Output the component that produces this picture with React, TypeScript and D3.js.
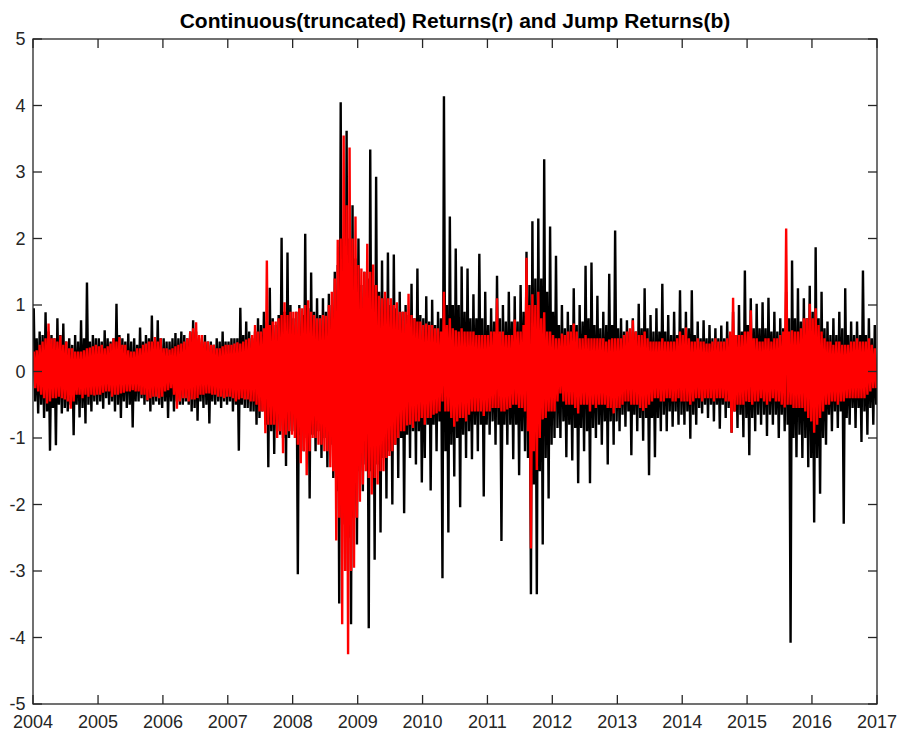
import React, { useEffect, useRef } from 'react';
import * as d3 from 'd3';

const TITLE = 'Continuous(truncated) Returns(r) and Jump Returns(b)';
const xTickYears = [2004, 2005, 2006, 2007, 2008, 2009, 2010, 2011, 2012, 2013, 2014, 2015, 2016, 2017];
const yTicks = [-5, -4, -3, -2, -1, 0, 1, 2, 3, 4, 5];
const FIRST_YEAR = 2004;
const SLOTS_PER_YEAR = 22;

// continuous (truncated) returns, black: highest and lowest reading in each slot, one row per year 2004..2016
const blackHigh = [
  0.95, 0.5, 0.6, 0.55, 0.89, 0.6, 0.55, 0.5, 0.8, 0.55, 0.72, 0.45, 0.5, 0.4, 0.55, 0.45, 0.77, 0.5, 1.34, 0.45, 0.55, 0.5,
  0.5, 0.45, 0.62, 0.5, 0.45, 0.5, 1.02, 0.55, 0.5, 0.45, 0.57, 0.45, 0.5, 0.4, 0.66, 0.45, 0.55, 0.5, 0.84, 0.45, 0.77, 0.5,
  0.5, 0.45, 0.45, 0.5, 0.58, 0.5, 0.6, 0.55, 0.5, 0.6, 0.77, 0.6, 0.5, 0.45, 0.55, 0.45, 0.45, 0.4, 0.5, 0.45, 0.6, 0.45,
  0.45, 0.5, 0.5, 0.5, 0.96, 0.55, 0.75, 0.6, 0.5, 0.6, 0.8, 0.7, 0.9, 0.75, 1.26, 0.8, 0.7, 0.85, 2.01, 0.9, 1.79, 1.0,
  0.8, 0.9, 1.0, 0.85, 2.07, 0.95, 1.49, 0.9, 1.1, 0.85, 1.1, 0.9, 1.17, 1.0, 1.5, 1.6, 4.05, 2.0, 3.62, 2.0, 2.5, 1.7,
  2.0, 1.3, 1.5, 1.4, 3.34, 1.3, 2.93, 1.2, 1.67, 1.1, 1.79, 1.0, 1.76, 0.95, 1.2, 0.9, 1.0, 0.85, 1.32, 0.8, 1.55, 0.85,
  0.8, 1.13, 0.75, 1.08, 0.7, 0.9, 0.8, 4.14, 1.0, 2.33, 1.0, 1.85, 1.0, 1.58, 0.9, 1.55, 0.8, 1.16, 0.8, 1.77, 0.8, 1.2,
  0.7, 0.95, 0.75, 1.44, 0.8, 1.0, 0.75, 1.2, 0.75, 1.13, 0.75, 1.3, 0.9, 1.8, 1.3, 2.26, 1.4, 2.3, 1.4, 3.19, 1.2, 2.18,
  0.9, 1.74, 0.7, 1.0, 0.65, 0.9, 0.7, 1.25, 0.7, 1.0, 0.75, 1.59, 0.8, 1.64, 0.7, 1.14, 0.65, 0.9, 0.7, 1.47, 0.7, 2.12,
  0.65, 0.8, 0.6, 0.77, 0.6, 0.8, 0.6, 1.02, 0.65, 1.25, 0.65, 0.85, 0.6, 0.95, 0.6, 1.32, 0.6, 0.85, 0.55, 0.9, 0.55, 1.22,
  0.65, 0.9, 0.65, 1.22, 0.55, 0.75, 0.5, 0.77, 0.5, 0.7, 0.5, 0.65, 0.5, 0.69, 0.5, 0.75, 0.55, 0.9, 0.55, 1.0, 0.6, 1.52,
  0.7, 1.1, 0.65, 1.02, 0.65, 1.04, 0.65, 1.11, 0.6, 0.9, 0.6, 0.8, 0.65, 1.2, 0.8, 1.67, 0.8, 1.25, 0.75, 1.1, 0.8, 1.29,
  0.9, 1.87, 0.8, 1.2, 0.65, 0.75, 0.55, 0.8, 0.55, 0.9, 0.65, 1.25, 0.55, 0.75, 0.55, 0.75, 0.55, 1.52, 0.55, 0.8, 0.5, 0.7,
];
const blackLow = [
  -0.45, -0.63, -0.5, -0.7, -0.6, -1.19, -0.55, -1.11, -0.5, -0.63, -0.55, -0.6, -0.5, -0.96, -0.5, -0.69, -0.55, -0.78, -0.5, -0.6, -0.45, -0.5,
  -0.45, -0.56, -0.4, -0.5, -0.45, -0.6, -0.5, -0.7, -0.45, -0.55, -0.5, -0.84, -0.45, -0.45, -0.4, -0.5, -0.45, -0.6, -0.5, -0.45, -0.5, -0.55,
  -0.45, -0.7, -0.45, -0.6, -0.45, -0.5, -0.5, -0.45, -0.5, -0.6, -0.55, -0.74, -0.45, -0.55, -0.5, -0.78, -0.45, -0.5, -0.45, -0.55, -0.45, -0.5,
  -0.45, -0.6, -0.5, -1.19, -0.5, -0.55, -0.55, -0.6, -0.6, -0.8, -0.7, -0.6, -0.8, -1.44, -0.9, -1.24, -0.9, -0.95, -1.0, -1.42, -1.0, -0.9,
  -0.9, -3.05, -0.95, -1.2, -1.0, -1.91, -0.95, -1.2, -0.9, -1.3, -1.0, -1.44, -1.1, -1.6, -1.8, -3.49, -2.3, -3.0, -2.5, -3.8, -2.2, -2.6,
  -1.5, -1.8, -1.4, -3.86, -1.5, -2.83, -1.4, -2.42, -1.3, -1.91, -1.2, -2.0, -1.1, -1.6, -1.0, -2.13, -0.95, -1.3, -0.9, -1.4, -0.9, -1.67,
  -1.3, -0.8, -1.79, -0.8, -1.2, -0.75, -3.11, -1.2, -2.42, -1.1, -1.58, -1.0, -2.04, -0.95, -1.3, -0.9, -1.32, -0.8, -1.2, -0.8, -1.88, -0.8,
  -0.95, -0.75, -1.1, -0.8, -2.55, -0.8, -1.1, -0.8, -1.32, -0.8, -1.56, -0.9, -1.2, -1.3, -3.35, -1.7, -3.35, -1.5, -2.6, -1.3, -1.91, -1.1,
  -1.0, -0.85, -1.0, -0.75, -1.29, -0.8, -1.34, -0.85, -1.68, -0.85, -1.2, -0.9, -1.68, -0.85, -1.0, -0.8, -1.1, -0.75, -1.4, -0.75, -1.1, -0.75,
  -0.9, -0.65, -0.83, -0.6, -1.26, -0.65, -0.9, -0.7, -1.04, -0.7, -1.56, -0.7, -1.29, -0.7, -0.9, -0.65, -0.9, -0.6, -0.83, -0.6, -0.8, -0.65,
  -0.8, -0.6, -1.01, -0.65, -0.8, -0.55, -0.63, -0.5, -0.7, -0.5, -0.75, -0.5, -0.86, -0.5, -0.7, -0.55, -0.92, -0.6, -0.85, -0.65, -0.99, -0.7,
  -1.26, -0.7, -0.9, -0.65, -0.8, -0.65, -0.97, -0.65, -0.8, -0.65, -1.0, -0.65, -0.9, -0.8, -4.08, -1.0, -1.29, -0.95, -1.3, -1.0, -1.44, -1.3,
  -2.27, -1.3, -1.84, -1.0, -1.1, -0.65, -0.9, -0.6, -0.85, -0.6, -2.29, -0.7, -0.8, -0.55, -0.85, -0.55, -1.06, -0.6, -0.95, -0.55, -0.8, -0.5,
];

// jump returns, red: same slots
const redHigh = [
  0.3, 0.32, 0.4, 0.45, 0.5, 0.72, 0.5, 0.5, 0.45, 0.54, 0.4, 0.45, 0.35, 0.35, 0.3, 0.3, 0.3, 0.32, 0.35, 0.36, 0.38, 0.4,
  0.38, 0.4, 0.35, 0.38, 0.42, 0.5, 0.45, 0.52, 0.4, 0.4, 0.32, 0.3, 0.3, 0.35, 0.35, 0.4, 0.42, 0.45, 0.45, 0.52, 0.45, 0.5,
  0.35, 0.35, 0.33, 0.35, 0.38, 0.4, 0.42, 0.45, 0.5, 0.6, 0.65, 0.74, 0.55, 0.55, 0.45, 0.45, 0.4, 0.4, 0.35, 0.35, 0.38, 0.4,
  0.4, 0.4, 0.42, 0.44, 0.42, 0.45, 0.48, 0.5, 0.55, 0.7, 0.6, 0.6, 0.65, 1.67, 0.7, 0.75, 0.75, 0.8, 0.85, 1.04, 0.85, 0.9,
  0.9, 0.9, 0.95, 0.95, 1.0, 1.07, 0.9, 0.85, 0.8, 0.8, 0.85, 0.84, 1.0, 1.2, 1.4, 1.98, 2.0, 3.55, 2.5, 3.37, 2.0, 2.33,
  1.6, 1.55, 1.5, 1.92, 1.5, 1.61, 1.3, 1.14, 1.1, 1.2, 1.1, 1.1, 1.0, 1.04, 0.9, 0.9, 0.9, 1.17, 0.85, 0.8, 0.75, 0.75,
  0.7, 0.72, 0.7, 0.7, 0.65, 0.65, 0.6, 1.2, 0.7, 0.8, 0.65, 0.62, 0.6, 0.65, 0.6, 0.6, 0.6, 0.6, 0.55, 0.55, 0.55, 0.55,
  0.55, 0.6, 0.6, 1.1, 0.6, 0.6, 0.55, 0.55, 0.55, 0.78, 0.6, 0.6, 0.7, 1.71, 1.0, 1.16, 1.0, 1.2, 0.8, 0.89, 0.6, 0.6,
  0.55, 0.5, 0.5, 0.57, 0.55, 0.6, 0.6, 0.72, 0.6, 0.5, 0.5, 0.55, 0.5, 0.5, 0.5, 0.5, 0.5, 0.5, 0.45, 0.48, 0.5, 0.5,
  0.5, 0.5, 0.55, 0.6, 0.65, 0.77, 0.6, 0.55, 0.55, 0.6, 0.5, 0.45, 0.45, 0.45, 0.45, 0.5, 0.45, 0.45, 0.45, 0.45, 0.5, 0.6,
  0.55, 0.66, 0.5, 0.45, 0.45, 0.5, 0.45, 0.45, 0.42, 0.42, 0.45, 0.5, 0.45, 0.45, 0.45, 0.5, 0.6, 1.11, 0.55, 0.55, 0.55, 0.6,
  0.6, 0.92, 0.5, 0.5, 0.45, 0.45, 0.5, 0.5, 0.45, 0.5, 0.5, 0.55, 0.6, 2.15, 0.6, 0.62, 0.6, 0.6, 0.65, 0.8, 0.8, 1.02,
  0.8, 0.95, 0.7, 0.6, 0.5, 0.45, 0.45, 0.4, 0.45, 0.45, 0.4, 0.4, 0.4, 0.45, 0.45, 0.5, 0.45, 0.45, 0.45, 0.5, 0.4, 0.35,
];
const redLow = [
  -0.25, -0.3, -0.35, -0.4, -0.48, -0.45, -0.4, -0.4, -0.38, -0.4, -0.42, -0.45, -0.56, -0.45, -0.35, -0.35, -0.4, -0.35, -0.38, -0.35, -0.36, -0.35,
  -0.35, -0.32, -0.3, -0.3, -0.38, -0.35, -0.35, -0.33, -0.32, -0.3, -0.3, -0.28, -0.3, -0.3, -0.35, -0.35, -0.43, -0.4, -0.38, -0.38, -0.4, -0.38,
  -0.3, -0.28, -0.25, -0.35, -0.56, -0.45, -0.4, -0.4, -0.45, -0.42, -0.42, -0.4, -0.35, -0.35, -0.33, -0.33, -0.35, -0.35, -0.38, -0.38, -0.4, -0.38,
  -0.38, -0.4, -0.45, -0.42, -0.4, -0.42, -0.42, -0.45, -0.45, -0.5, -0.6, -0.6, -0.93, -0.8, -0.8, -0.8, -1.0, -0.9, -1.23, -0.95, -0.9, -0.95,
  -1.0, -1.1, -1.38, -1.2, -1.56, -1.2, -1.0, -1.0, -1.1, -1.1, -1.2, -1.2, -1.44, -1.5, -2.54, -2.2, -3.8, -3.0, -4.25, -3.0, -2.95, -2.2,
  -1.96, -1.7, -1.5, -1.6, -1.85, -1.6, -1.7, -1.5, -1.5, -1.3, -1.27, -1.2, -1.1, -1.0, -0.9, -0.9, -0.81, -0.8, -0.85, -0.75, -0.75, -0.7,
  -0.8, -0.7, -0.7, -0.65, -0.63, -0.6, -0.45, -0.6, -0.6, -0.7, -0.83, -0.75, -0.7, -0.7, -0.75, -0.65, -0.6, -0.6, -0.6, -0.6, -0.67, -0.6,
  -0.6, -0.55, -0.55, -0.55, -0.6, -0.6, -0.57, -0.55, -0.5, -0.5, -0.55, -0.55, -0.6, -0.9, -2.66, -1.2, -1.48, -1.0, -0.72, -0.7, -0.6, -0.6,
  -0.6, -0.45, -0.33, -0.45, -0.5, -0.5, -0.5, -0.55, -0.63, -0.5, -0.5, -0.5, -0.6, -0.5, -0.55, -0.5, -0.5, -0.5, -0.55, -0.55, -0.63, -0.55,
  -0.55, -0.5, -0.45, -0.45, -0.5, -0.5, -0.5, -0.55, -0.59, -0.55, -0.5, -0.45, -0.4, -0.4, -0.45, -0.45, -0.4, -0.4, -0.45, -0.45, -0.4, -0.45,
  -0.45, -0.45, -0.5, -0.45, -0.4, -0.4, -0.45, -0.4, -0.4, -0.4, -0.45, -0.4, -0.4, -0.4, -0.45, -0.45, -0.92, -0.6, -0.5, -0.5, -0.5, -0.45,
  -0.46, -0.5, -0.45, -0.45, -0.4, -0.45, -0.5, -0.45, -0.4, -0.45, -0.45, -0.5, -0.54, -0.5, -0.5, -0.55, -0.55, -0.55, -0.55, -0.6, -0.7, -0.75,
  -0.92, -0.8, -0.7, -0.6, -0.5, -0.5, -0.45, -0.45, -0.5, -0.45, -0.45, -0.4, -0.4, -0.4, -0.4, -0.4, -0.4, -0.4, -0.35, -0.3, -0.25, -0.25,
];

type Pt = { date: Date; value: number };

// each slot gives its high then its low, a quarter slot either side of the slot centre
const toPoints = (high: number[], low: number[]): Pt[] => high.flatMap((h, i) => {
  const yr = FIRST_YEAR + Math.floor(i / SLOTS_PER_YEAR);
  const k = i % SLOTS_PER_YEAR;
  const t0 = Date.UTC(yr, 0, 1);
  const span = (Date.UTC(yr + 1, 0, 1) - t0) / SLOTS_PER_YEAR;
  const mid = t0 + (k + 0.5) * span;
  return [
    { date: new Date(mid - span / 4), value: h },
    { date: new Date(mid + span / 4), value: low[i] },
  ];
});

const WIDTH = 899;
const HEIGHT = 735;
const LEFT = 33;
const RIGHT = 877;
const TOP = 39;
const BOTTOM = 704;
const AXIS = '#262626';
const FONT = '"Liberation Sans", Arial, Helvetica, sans-serif';

export default function App() {
  const ref = useRef<SVGSVGElement | null>(null);

  useEffect(() => {
    const svg = d3.select(ref.current);
    svg.selectAll('*').remove();

    const x = d3.scaleUtc()
      .domain([new Date(Date.UTC(2004, 0, 1)), new Date(Date.UTC(2017, 0, 1))])
      .range([LEFT, RIGHT]);
    const y = d3.scaleLinear().domain([-5, 5]).range([BOTTOM, TOP]);

    svg.append('rect').attr('width', WIDTH).attr('height', HEIGHT).attr('fill', '#fff');

    svg.append('defs').append('clipPath').attr('id', 'plot-clip')
      .append('rect')
      .attr('x', LEFT).attr('y', TOP)
      .attr('width', RIGHT - LEFT).attr('height', BOTTOM - TOP);

    const line = d3.line<Pt>()
      .x(d => x(d.date))
      .y(d => y(d.value));

    const plot = svg.append('g').attr('clip-path', 'url(#plot-clip)');

    plot.append('path')
      .datum(toPoints(blackHigh, blackLow))
      .attr('fill', 'none')
      .attr('stroke', '#000')
      .attr('stroke-width', 2.4)
      .attr('d', line);

    plot.append('path')
      .datum(toPoints(redHigh, redLow))
      .attr('fill', 'none')
      .attr('stroke', '#ff0000')
      .attr('stroke-width', 2.4)
      .attr('d', line);

    // box with inward ticks on all four sides
    const axes = svg.append('g').attr('stroke', AXIS).attr('stroke-width', 1.3).attr('fill', 'none');
    axes.append('rect')
      .attr('x', LEFT).attr('y', TOP)
      .attr('width', RIGHT - LEFT).attr('height', BOTTOM - TOP);

    const tickLen = 9;
    xTickYears.forEach(yr => {
      const px = x(new Date(Date.UTC(yr, 0, 1)));
      axes.append('line').attr('x1', px).attr('x2', px).attr('y1', BOTTOM).attr('y2', BOTTOM - tickLen);
      axes.append('line').attr('x1', px).attr('x2', px).attr('y1', TOP).attr('y2', TOP + tickLen);
    });
    yTicks.forEach(v => {
      const py = y(v);
      axes.append('line').attr('x1', LEFT).attr('x2', LEFT + tickLen).attr('y1', py).attr('y2', py);
      axes.append('line').attr('x1', RIGHT).attr('x2', RIGHT - tickLen).attr('y1', py).attr('y2', py);
    });

    const labels = svg.append('g')
      .attr('font-family', FONT)
      .attr('font-size', 18)
      .attr('fill', AXIS);

    labels.selectAll('text.xt').data(xTickYears).join('text')
      .attr('class', 'xt')
      .attr('x', d => x(new Date(Date.UTC(d, 0, 1))))
      .attr('y', 728)
      .attr('text-anchor', 'middle')
      .text(d => String(d));

    labels.selectAll('text.yt').data(yTicks).join('text')
      .attr('class', 'yt')
      .attr('x', 25.5)
      .attr('y', d => y(d))
      .attr('dy', '0.35em')
      .attr('text-anchor', 'end')
      .text(d => String(d));

    svg.append('text')
      .attr('x', (LEFT + RIGHT) / 2)
      .attr('y', 28)
      .attr('text-anchor', 'middle')
      .attr('font-family', FONT)
      .attr('font-size', 21)
      .attr('font-weight', 'bold')
      .attr('fill', '#000')
      .text(TITLE);
  }, []);

  return (
    <svg
      ref={ref}
      width={WIDTH}
      height={HEIGHT}
      style={{ position: 'absolute', left: 0, top: 0, display: 'block' }}
    />
  );
}
